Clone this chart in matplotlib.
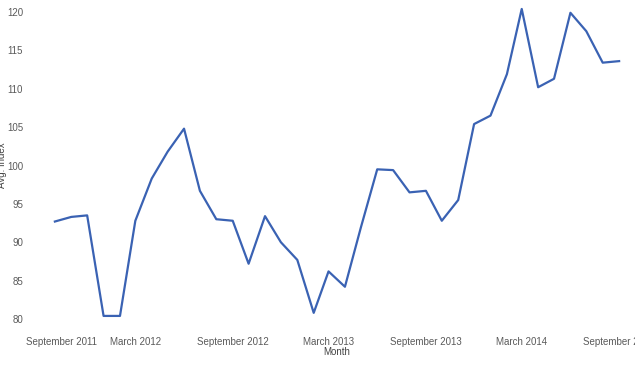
import pandas as pd
import matplotlib
matplotlib.use('Agg')
import matplotlib.pyplot as plt
import matplotlib.dates as mdates
import matplotlib.transforms as mtransforms

months = pd.date_range('2011-10-01', periods=36, freq='MS')
avg_index = [92.7, 93.3, 93.5, 80.4, 80.4, 92.8, 98.3, 101.8, 104.8, 96.7,
             93.0, 92.8, 87.2, 93.4, 90.0, 87.7, 80.8, 86.2, 84.2, 91.9,
             99.5, 99.4, 96.5, 96.7, 92.8, 95.5, 105.4, 106.5, 111.9, 120.4,
             110.2, 111.3, 119.9, 117.5, 113.4, 113.6]
tick_dates = pd.to_datetime(['2011-09-01', '2012-03-01', '2012-09-01', '2013-03-01',
                             '2013-09-01', '2014-03-01', '2014-09-01'])
yticks = [80, 85, 90, 95, 100, 105, 110, 115, 120]

plt.rcParams['font.family'] = ['Liberation Sans', 'DejaVu Sans']

fig = plt.figure(figsize=(6.35, 3.75), dpi=100)
ax = fig.add_axes([39 / 635, 1 - 330.5 / 375, 1 - 39 / 635, 330 / 375])

ax.plot(months, avg_index, color='#3a62b3', linewidth=1.6)

ax.set_xlim(pd.Timestamp('2011-09-01'), pd.Timestamp('2014-10-01'))
ax.set_ylim(78.5, 121.5)
ax.set_xticks(tick_dates)
ax.xaxis.set_major_formatter(mdates.DateFormatter('%B %Y'))
ax.set_yticks(yticks)

for s in ax.spines.values():
    s.set_visible(False)
ax.tick_params(length=0, labelsize=7, colors='#5a5a5a')
ax.tick_params(axis='y', pad=11.5)
ax.tick_params(axis='x', pad=4.5)

# first date label sits a bit to the right in the original
first = ax.get_xticklabels()[0]
first.set_transform(first.get_transform() +
                    mtransforms.ScaledTranslation(23 / 100, 0, fig.dpi_scale_trans))

ax.set_xlabel('Month', fontsize=7, color='#444444', labelpad=0)
ax.set_ylabel('Avg. Index', fontsize=7, color='#444444')
ax.yaxis.set_label_coords(-0.054, 0.5)

fig.savefig('out.png', dpi=100)
